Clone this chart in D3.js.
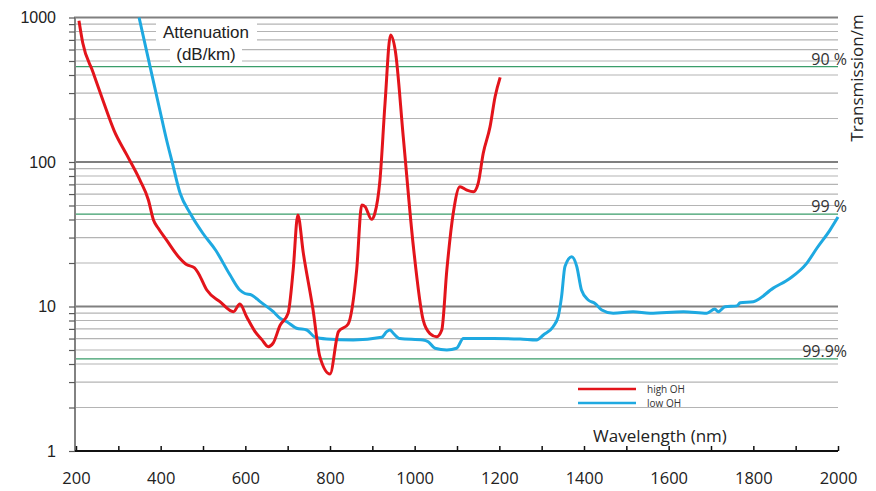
<!DOCTYPE html>
<html>
<head>
<meta charset="utf-8">
<script src="https://cdn.jsdelivr.net/npm/d3@7"></script>
<style>
  html, body { margin: 0; padding: 0; background: #fff; }
  svg { display: block; }
</style>
</head>
<body>
<svg id="chart" width="876" height="491"></svg>
<script>
// ---- data ----
const highOHWavelength = [207, 216, 240, 265, 290, 320, 351, 371, 383, 394, 414, 442, 460, 480, 490, 509, 540, 572, 587, 603, 623, 639, 654, 666, 682, 701, 713, 724, 737, 760, 776, 800, 820, 843, 863, 875, 883, 898, 906, 918, 930, 943, 954, 973, 997, 1020, 1036, 1052, 1064, 1076, 1091, 1107, 1123, 1139, 1150, 1162, 1178, 1190, 1202];
const highOHAttenuation = [950, 666, 420, 260, 165, 112, 75, 54.6, 39.7, 34.9, 28.8, 22.1, 19.6, 18.5, 16.8, 13.0, 10.8, 9.2, 10.4, 8.5, 6.7, 5.9, 5.27, 5.6, 7.4, 8.97, 17.9, 43.0, 23.4, 9.46, 4.5, 3.41, 6.7, 7.57, 17.9, 50.4, 49, 40.1, 44.2, 75, 255, 757, 596, 150, 25.9, 8.07, 6.5, 6.18, 6.88, 17.9, 44, 67.5, 64, 62.3, 71.2, 115, 175, 283, 385];

const lowOHWavelength = [349, 375, 398, 414, 426, 446, 470, 500, 530, 564, 587, 599, 615, 635, 666, 682, 698, 721, 745, 765, 792, 855, 922, 934, 942, 950, 965, 1020, 1032, 1048, 1076, 1099, 1115, 1186, 1249, 1288, 1304, 1327, 1339, 1347, 1355, 1371, 1383, 1394, 1410, 1426, 1442, 1469, 1516, 1556, 1635, 1690, 1709, 1717, 1733, 1761, 1769, 1800, 1847, 1887, 1926, 1950, 1981, 2000];
const lowOHAttenuation = [1000, 457, 229, 142, 103, 60.7, 44, 32, 24.5, 16.5, 13.0, 12.3, 12.0, 10.8, 9.2, 8.3, 7.85, 7.07, 6.88, 6.12, 5.96, 5.87, 6.12, 6.7, 6.88, 6.5, 6.0, 5.87, 5.71, 5.14, 5.0, 5.14, 6.0, 6.0, 5.96, 5.87, 6.35, 7.25, 8.5, 11.7, 18.9, 22.1, 18.9, 13.0, 11.1, 10.5, 9.46, 8.97, 9.2, 8.97, 9.2, 8.97, 9.6, 9.2, 9.97, 10.1, 10.6, 10.8, 13.4, 15.7, 19.9, 25.3, 33.8, 41.6];

const xTickValues = [200, 300, 400, 500, 600, 700, 800, 900, 1000, 1100, 1200, 1300, 1400, 1500, 1600, 1700, 1800, 1900, 2000];
const xTickLabels = ["200", "", "400", "", "600", "", "800", "", "1000", "", "1200", "", "1400", "", "1600", "", "1800", "", "2000"];
const yTickLabels = ["1", "10", "100", "1000"];
const transmissionLevels = [0.9, 0.99, 0.999];
const transmissionLabels = ["90 %", "99 %", "99.9%"];
const seriesNames = ["high OH", "low OH"];

// ---- layout ----
const svg = d3.select("#chart");
const x = d3.scaleLinear().domain([200, 2000]).range([76, 838]);
const y = d3.scaleLog().domain([1, 1000]).range([451, 17.5]);
const colors = { red: "#e3141b", blue: "#1ea9e1" };

// grid values
const gridVals = [];
[1, 10, 100].forEach(d => { for (let k = 1; k <= 9; k++) gridVals.push(k * d); });
gridVals.push(1000);

const grid = svg.append("g");
grid.selectAll("line").data(gridVals.filter(v => v > 1)).join("line")
  .attr("x1", x(200)).attr("x2", x(2000))
  .attr("y1", d => y(d)).attr("y2", d => y(d))
  .attr("stroke", d => [10, 100, 1000].includes(d) ? "#808080" : "#b4b4b4")
  .attr("stroke-width", d => [10, 100, 1000].includes(d) ? 2 : 1.2);

// transmission (green) lines: attenuation in dB/km for given transmission per metre
const transAtt = transmissionLevels.map(t => -10 * Math.log10(t) * 1000);
svg.append("g").selectAll("line").data(transAtt).join("line")
  .attr("x1", x(200)).attr("x2", x(2000))
  .attr("y1", d => y(d)).attr("y2", d => y(d))
  .attr("stroke", "#3a9d6a").attr("stroke-width", 1.2);

svg.append("g").selectAll("text").data(transAtt).join("text")
  .attr("x", 847).attr("y", d => y(d) - 2)
  .attr("text-anchor", "end")
  .attr("font-family", "'Open Sans', sans-serif")
  .attr("font-size", 16)
  .attr("fill", "#333")
  .text((d, i) => transmissionLabels[i]);

// Attenuation label with white background
const attG = svg.append("g");
attG.append("rect").attr("x", 156).attr("y", 22).attr("width", 101).attr("height", 19).attr("fill", "#fff");
attG.append("rect").attr("x", 170).attr("y", 45).attr("width", 72).attr("height", 18).attr("fill", "#fff");
attG.append("text").attr("x", 206).attr("y", 38).attr("text-anchor", "middle")
  .attr("font-family", "'Liberation Sans', Arial, sans-serif").attr("font-size", 17).attr("fill", "#222")
  .text("Attenuation");
attG.append("text").attr("x", 206).attr("y", 60).attr("text-anchor", "middle")
  .attr("font-family", "'Liberation Sans', Arial, sans-serif").attr("font-size", 17).attr("fill", "#222")
  .text("(dB/km)");

// Y axis
const yAxis = d3.axisLeft(y)
  .tickValues(gridVals)
  .tickSize(6)
  .tickPadding(13)
  .tickFormat(d => yTickLabels.includes(String(d)) ? String(d) : "");
const yg = svg.append("g").attr("transform", "translate(75,0)").call(yAxis);
yg.select(".domain").attr("stroke", "#595959").attr("stroke-width", 1.5).attr("d", `M0,${y(1000) - 1}V${y(1)}`);
yg.selectAll(".tick line").attr("stroke", "#595959").attr("stroke-width", 1.2);
yg.selectAll(".tick text")
  .attr("font-family", "'Liberation Sans', Arial, sans-serif")
  .attr("font-size", 16).attr("fill", "#222");

// X axis
const xAxis = d3.axisBottom(x)
  .tickValues(xTickValues)
  .tickSizeInner(-5)
  .tickSizeOuter(0)
  .tickPadding(21)
  .tickFormat((d, i) => xTickLabels[i]);
const xg = svg.append("g").attr("transform", `translate(0,${y(1)})`).call(xAxis);
xg.select(".domain").attr("stroke", "#111").attr("stroke-width", 2).attr("d", `M75,0H${x(2000)}`);
xg.selectAll(".tick line").attr("stroke", "#111").attr("stroke-width", 1.5);
xg.selectAll(".tick text")
  .attr("font-family", "'Open Sans', sans-serif")
  .attr("font-size", 16.5).attr("fill", "#222");

// axis titles
svg.append("text").attr("x", 660).attr("y", 442).attr("text-anchor", "middle")
  .attr("font-family", "'Open Sans', sans-serif").attr("font-size", 17).attr("fill", "#222")
  .text("Wavelength (nm)");
svg.append("text").attr("transform", "translate(863,78) rotate(-90)").attr("text-anchor", "middle")
  .attr("font-family", "'Open Sans', sans-serif").attr("font-size", 17).attr("fill", "#222")
  .text("Transmission/m");

// curves
const line = d3.line().x(d => x(d[0])).y(d => y(d[1])).curve(d3.curveMonotoneX);
const lowData = lowOHWavelength.map((w, i) => [w, lowOHAttenuation[i]]);
const highData = highOHWavelength.map((w, i) => [w, highOHAttenuation[i]]);

svg.append("path").datum(lowData).attr("d", line)
  .attr("fill", "none").attr("stroke", colors.blue).attr("stroke-width", 3).attr("stroke-linejoin", "round");
svg.append("path").datum(highData).attr("d", line)
  .attr("fill", "none").attr("stroke", colors.red).attr("stroke-width", 3).attr("stroke-linejoin", "round");

// legend
const legend = svg.append("g");
const legColors = [colors.red, colors.blue];
seriesNames.forEach((name, i) => {
  const ly = 389 + i * 14;
  legend.append("line").attr("x1", 578).attr("x2", 636).attr("y1", ly).attr("y2", ly)
    .attr("stroke", legColors[i]).attr("stroke-width", 2.5);
  legend.append("text").attr("x", 647).attr("y", ly + 3.5)
    .attr("font-family", "'Open Sans', sans-serif").attr("font-size", 10).attr("fill", "#333")
    .text(name);
});
</script>
</body>
</html>
